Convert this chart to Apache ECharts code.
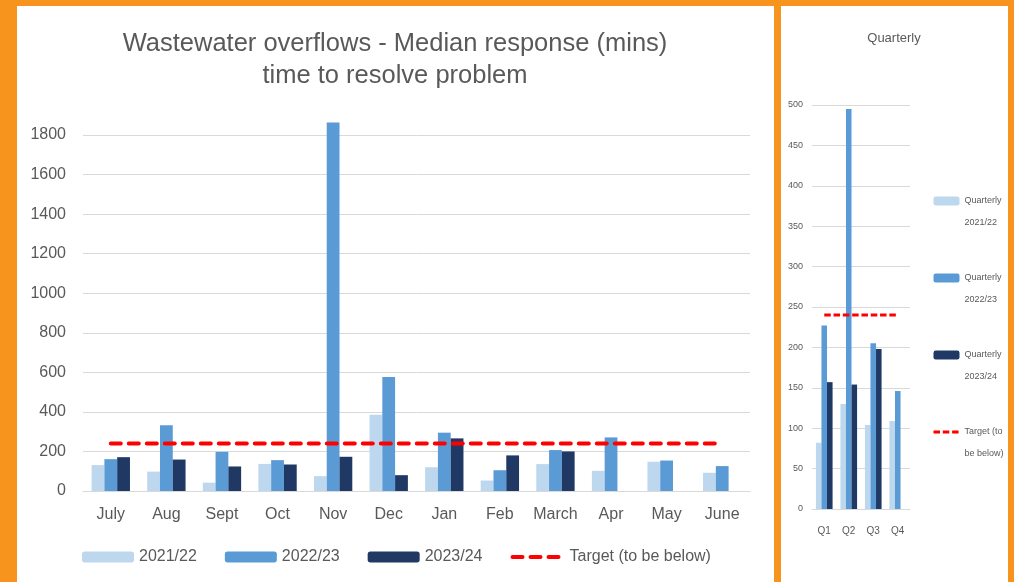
<!DOCTYPE html>
<html>
<head>
<meta charset="utf-8">
<script src="https://cdn.jsdelivr.net/npm/echarts@6/dist/echarts.min.js"></script>
<style>
html,body{margin:0;padding:0;width:1014px;height:582px;overflow:hidden;background:#F7941D;}
#pl{position:absolute;left:17px;top:6px;width:757px;height:576px;background:#fff;}
#pr{position:absolute;left:781px;top:6px;width:227px;height:576px;background:#fff;}
#chart{position:absolute;left:0;top:0;width:1014px;height:582px;}
</style>
</head>
<body>
<div id="pl"></div><div id="pr"></div>
<div id="chart"></div>
<script>
// ---- data ----
const months = ['July','Aug','Sept','Oct','Nov','Dec','Jan','Feb','March','Apr','May','June'];
const fy2122 = [131, 98, 42, 137, 75, 385, 120, 53, 136, 102, 148, 92];
const fy2223 = [161, 332, 198, 156, 1863, 577, 295, 105, 207, 271, 154, 126];
const fy2324 = [171, 159, 124, 134, 173, 80, 266, 180, 200, null, null, null];
const targetMonthly = [240, 240, 240, 240, 240, 240, 240, 240, 240, 240, 240, 240];
const monthlyTicks = [0, 200, 400, 600, 800, 1000, 1200, 1400, 1600, 1800];

const quarters = ['Q1','Q2','Q3','Q4'];
const q2122 = [82, 130, 104, 109];
const q2223 = [227, 495, 205, 146];
const q2324 = [157, 154, 198, null];
const targetQuarterly = [240, 240, 240, 240];
const quarterlyTicks = [0, 50, 100, 150, 200, 250, 300, 350, 400, 450, 500];

const leftNames = ['2021/22', '2022/23', '2023/24', 'Target (to be below)'];
const rightNames = ['Quarterly 2021/22', 'Quarterly 2022/23', 'Quarterly 2023/24', 'Quarterly target'];
const rightLabels = ['Quarterly\n2021/22', 'Quarterly\n2022/23', 'Quarterly\n2023/24', 'Target (to\nbe below)'];

const C1 = '#BDD7EE', C2 = '#5B9BD5', C3 = '#203864', RED = '#FF0000', TXT = '#595959', GRID = '#D9D9D9';
const FONT = "'Liberation Sans', Arial, sans-serif";

const chart = echarts.init(document.getElementById('chart'), null, {renderer: 'canvas'});

function bar(name, data, color, xi, gap) {
  return {name, type: 'bar', data, xAxisIndex: xi, yAxisIndex: xi, clip: false,
    barGap: '0%', barCategoryGap: gap, itemStyle: {color}, emphasis: {disabled: true}};
}

const leftDash = {color: RED, width: 4, type: [10, 8], cap: 'round'};
const rightDash = {color: RED, width: 3, type: [6.5, 2.8]};

chart.setOption({
  animation: false,
  title: [
    {text: 'Wastewater overflows - Median response (mins)\ntime to resolve problem',
     left: 395, top: 28, textAlign: 'center', padding: 0,
     textStyle: {fontFamily: FONT, fontSize: 25.5, fontWeight: 'normal', color: TXT, lineHeight: 32}},
    {text: 'Quarterly', left: 894, top: 32, textAlign: 'center', padding: 0,
     textStyle: {fontFamily: FONT, fontSize: 13, fontWeight: 'normal', color: TXT}}
  ],
  legend: [
    {data: [leftNames[0], leftNames[1], leftNames[2], {name: leftNames[3], itemStyle: {opacity: 0}, lineStyle: leftDash}],
     left: 82, top: 549, padding: 0, itemWidth: 52, itemHeight: 11, itemGap: 28,
     textStyle: {fontFamily: FONT, fontSize: 16, color: TXT}, selectedMode: false},
    {data: [rightNames[0], rightNames[1], rightNames[2], {name: rightNames[3], itemStyle: {opacity: 0}, lineStyle: rightDash}],
     orient: 'vertical', left: 932, top: 168, padding: 0, itemWidth: 26, itemHeight: 9, itemGap: 11,
     formatter: n => ' \n' + rightLabels[rightNames.indexOf(n)],
     textStyle: {fontFamily: FONT, fontSize: 9, color: TXT, lineHeight: 22},
     selectedMode: false}
  ],
  grid: [
    {left: 83, top: 135, width: 667, height: 356},
    {left: 812, top: 105, width: 98, height: 404}
  ],
  xAxis: [
    {type: 'category', gridIndex: 0, data: months,
     axisLine: {lineStyle: {color: GRID, width: 1}}, axisTick: {show: false},
     axisLabel: {color: TXT, fontFamily: FONT, fontSize: 16, margin: 16, interval: 0}},
    {type: 'category', gridIndex: 1, data: quarters,
     axisLine: {lineStyle: {color: GRID, width: 1}}, axisTick: {show: false},
     axisLabel: {color: TXT, fontFamily: FONT, fontSize: 10, margin: 17, interval: 0}}
  ],
  yAxis: [
    {type: 'value', gridIndex: 0, min: monthlyTicks[0], max: monthlyTicks[monthlyTicks.length - 1], interval: 200,
     axisLine: {show: false}, axisTick: {show: false},
     splitLine: {lineStyle: {color: GRID, width: 1}},
     axisLabel: {color: TXT, fontFamily: FONT, fontSize: 16, margin: 17, formatter: v => String(v)}},
    {type: 'value', gridIndex: 1, min: quarterlyTicks[0], max: quarterlyTicks[quarterlyTicks.length - 1], interval: 50,
     axisLine: {show: false}, axisTick: {show: false},
     splitLine: {lineStyle: {color: GRID, width: 1}},
     axisLabel: {color: TXT, fontFamily: FONT, fontSize: 9, margin: 9, formatter: v => String(v)}}
  ],
  series: [
    bar(leftNames[0], fy2122, C1, 0, '31%'),
    bar(leftNames[1], fy2223, C2, 0, '31%'),
    bar(leftNames[2], fy2324, C3, 0, '31%'),
    {name: leftNames[3], type: 'line', data: targetMonthly, xAxisIndex: 0, yAxisIndex: 0,
     symbol: 'none', z: 5, itemStyle: {color: RED},
     lineStyle: leftDash, emphasis: {disabled: true}},
    bar(rightNames[0], q2122, C1, 1, '32%'),
    bar(rightNames[1], q2223, C2, 1, '32%'),
    bar(rightNames[2], q2324, C3, 1, '32%'),
    {name: rightNames[3], type: 'line', data: targetQuarterly, xAxisIndex: 1, yAxisIndex: 1,
     symbol: 'none', z: 5, itemStyle: {color: RED},
     lineStyle: rightDash, emphasis: {disabled: true}}
  ]
});
</script>
</body>
</html>
